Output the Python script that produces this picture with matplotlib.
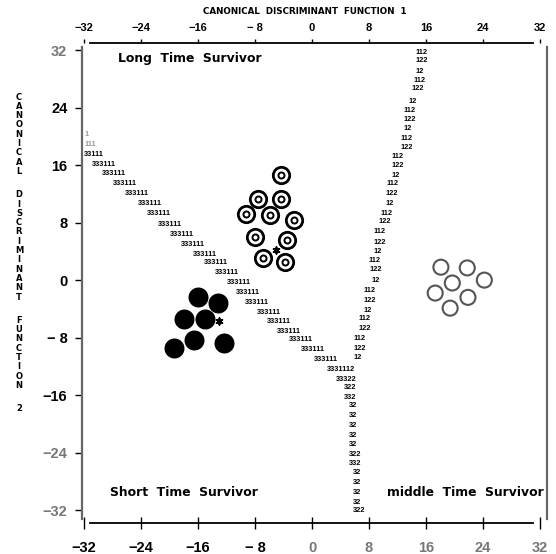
import matplotlib
matplotlib.use('Agg')
import matplotlib.pyplot as plt

plt.rcParams['font.family'] = ['Liberation Sans', 'DejaVu Sans']

# group cases (canonical scores)
long_x = [-4.35, -7.6, -4.35, -9.3, -5.9, -2.5, -8.0, -3.5, -6.9, -3.8]
long_y = [14.6, 11.3, 11.3, 9.2, 9.0, 8.3, 6.0, 5.6, 3.1, 2.5]
short_x = [-16.0, -13.2, -18.0, -15.0, -19.4, -16.6, -12.4]
short_y = [-2.4, -3.2, -5.4, -5.4, -9.5, -8.3, -8.8]
mid_x = [18.1, 21.8, 19.7, 24.2, 17.3, 21.9, 19.4]
mid_y = [1.8, 1.7, -0.4, 0.0, -1.8, -2.4, -3.9]
cent_x = [-5.1, -13.1]
cent_y = [4.2, -5.7]

# territorial boundary characters: left boundary (groups 3|1)
b31_x = [-32.0, -31.9, -32.0, -30.9, -29.5, -27.9, -26.3, -24.4, -23.2, -21.6,
         -19.9, -18.4, -16.7, -15.2, -13.6, -11.9, -10.7, -9.4, -7.7, -6.3,
         -4.9, -3.2, -1.5, 0.3, 2.1, 3.4]
b31_y = [20.3, 18.9, 17.5, 16.1, 14.9, 13.5, 12.1, 10.7, 9.3, 7.8,
         6.4, 5.0, 3.6, 2.4, 1.0, -0.3, -1.7, -3.1, -4.5, -5.7,
         -7.1, -8.3, -9.6, -11.0, -12.4, -13.8]
b31_txt = ['1', '111', '33111'] + ['333111'] * 21 + ['3331112', '33322']

# right boundary (groups 1|2)
b12_x = [14.5, 14.5, 14.5, 14.2, 14.0, 13.5, 12.9, 12.8, 12.8, 12.4, 12.4,
         11.2, 11.2, 11.2, 10.4, 10.3, 10.3, 9.6, 9.4, 8.7, 8.7, 8.7,
         8.0, 8.1, 8.3, 7.2, 7.2, 7.2, 6.5, 6.5, 5.8, 5.8, 5.8]
b12_y = [31.7, 30.5, 29.1, 27.8, 26.6, 24.9, 23.6, 22.4, 21.1, 19.7, 18.5,
         17.2, 16.0, 14.6, 13.4, 12.1, 10.7, 9.3, 8.1, 6.7, 5.3, 4.0,
         2.8, 1.5, 0.0, -1.5, -2.9, -4.2, -5.4, -6.7, -8.1, -9.5, -10.7]
b12_txt = ['112', '122', '12', '112', '122', '12', '112', '122', '12', '112', '122',
           '112', '122', '12', '112', '122', '12', '112', '122', '112', '122', '12',
           '112', '122', '12', '112', '122', '12', '112', '122', '112', '122', '12']

# bottom boundary (groups 3|2)
b32_x = [4.5, 4.5, 5.2, 5.2, 5.2, 5.2, 5.2, 5.2, 5.2, 5.8, 5.8, 5.8, 5.8, 5.8]
b32_y = [-14.9, -16.3, -17.5, -18.9, -20.3, -21.6, -22.9, -24.2, -25.5,
         -26.8, -28.2, -29.5, -30.9, -32.1]
b32_txt = ['322', '332', '32', '32', '32', '32', '32', '322', '332',
           '32', '32', '32', '32', '322']

ticks = [-32, -24, -16, -8, 0, 8, 16, 24, 32]
tick_txt = ['\u221232', '\u221224', '\u221216', '\u2212 8', '0', '8', '16', '24', '32']

fig = plt.figure(figsize=(5.56, 5.54), dpi=100)
ax = fig.add_axes([82/556, 31/554, 465/556, 480/554])
ax.set_xlim(-32.3, 33)
ax.set_ylim(-33.8, 33)

for xs, ys, ts in [(b31_x, b31_y, b31_txt), (b12_x, b12_y, b12_txt), (b32_x, b32_y, b32_txt)]:
    for i, (x, y, t) in enumerate(zip(xs, ys, ts)):
        col = '#999999' if (ts is b31_txt and i < 2) else 'black'
        ax.text(x, y, t, fontsize=5.3, fontweight='bold', ha='left', va='center', color=col)

# long time survivors: bullseye circles
ax.scatter(long_x, long_y, s=139, facecolor='white', edgecolor='black', linewidth=2.0, zorder=3)
ax.scatter(long_x, long_y, s=19, facecolor='white', edgecolor='black', linewidth=1.4, zorder=4)
# short time survivors: filled
ax.scatter(short_x, short_y, s=207, color='black', linewidth=0, zorder=3)
# middle time survivors: open gray
ax.scatter(mid_x, mid_y, s=117, facecolor='none', edgecolor='#555555', linewidth=1.5, zorder=3)
ax.scatter(cent_x, cent_y, s=22, marker=(6, 2, 0), color='black', linewidth=1.3, zorder=5)

lab_kw = dict(fontsize=8.9, fontweight='bold', family='DejaVu Sans', va='center')
ax.text(-27.3, 30.9, 'Long  Time  Survivor', **lab_kw)
ax.text(-28.4, -29.5, 'Short  Time  Survivor', **lab_kw)
ax.text(10.6, -29.5, 'middle  Time  Survivor', **lab_kw)

# axes
ax.set_xticks(ticks)
ax.set_xticklabels(tick_txt)
ax.set_yticks(ticks)
ax.set_yticklabels(tick_txt)
for lab, c in zip(ax.get_xticklabels(), ['k'] * 4 + ['#777777'] * 5):
    lab.set_color(c)
for lab, c in zip(ax.get_yticklabels(), ['#777777', '#777777'] + ['k'] * 6 + ['#777777']):
    lab.set_color(c)
ax.tick_params(axis='x', direction='inout', length=8, width=1, pad=9, labelsize=10.5)
ax.tick_params(axis='y', direction='out', length=5, width=1, pad=5.5, labelsize=10.5)

top = ax.secondary_xaxis('top')
top.set_xticks(ticks)
top.set_xticklabels(tick_txt)
top.tick_params(direction='out', length=3, width=1, pad=4.5, labelsize=8)
top.spines['top'].set_bounds(-31.2, 31.0)
top.spines['top'].set_linewidth(1.3)
for lab in top.get_xticklabels():
    lab.set_fontweight('bold')
for lab in ax.get_xticklabels() + ax.get_yticklabels():
    lab.set_fontweight('bold')

ax.spines['top'].set_visible(False)
ax.spines['bottom'].set_bounds(-31.2, 31.0)
ax.spines['bottom'].set_linewidth(1.3)
for s in ['left', 'right']:
    ax.spines[s].set_bounds(-33.3, 32.5)
    ax.spines[s].set_color('#666666')
    ax.spines[s].set_linewidth(1.6)

fig.text(305/556, 1 - 12/554, 'CANONICAL  DISCRIMINANT  FUNCTION  1', fontsize=6.3,
         fontweight='bold', family='DejaVu Sans', ha='center', va='center')

words = ['CANONICAL', 'DISCRIMINANT', 'FUNCTION', '2']
y0 = 97
for w in words:
    for ch in w:
        fig.text(19/556, 1 - y0/554, ch, fontsize=6, fontweight='bold',
                 family='DejaVu Sans', ha='center', va='center')
        y0 += 9.3
    y0 += 14

fig.savefig('out.png', dpi=100)
